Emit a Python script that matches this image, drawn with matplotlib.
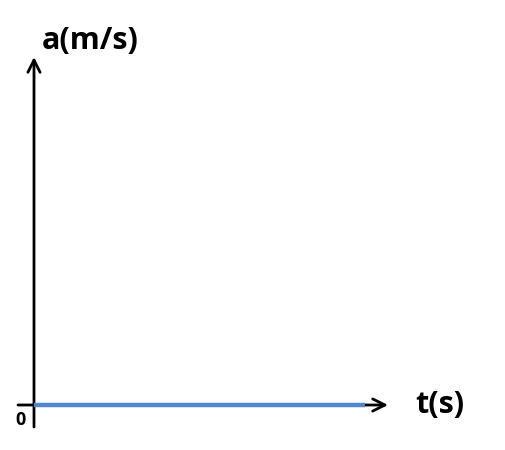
import matplotlib
matplotlib.use("Agg")
import matplotlib.pyplot as plt

# Data
t_values = [0, 10]
a_values = [0, 0]
x_label = "t(s)"
y_label = "a(m/s)"
origin_label = "0"

plt.rcParams['font.family'] = ['Open Sans', 'DejaVu Sans']

fig = plt.figure(figsize=(5.06, 4.5), dpi=100)
ax = fig.add_axes([0, 0, 1, 1])
px_x = 33.1
px_y = 34.7
ax.set_xlim(-34 / px_x, (506 - 34) / px_x)
ax.set_ylim(-45 / px_y, (450 - 45) / px_y)
ax.axis('off')

# axes arrows
ax.annotate('', xy=(388 / px_x - 34 / px_x, 0), xytext=(-16 / px_x, 0),
            arrowprops=dict(arrowstyle='->', lw=2, color='black',
                            mutation_scale=22, shrinkA=0, shrinkB=0))
ax.annotate('', xy=(0, (405 - 57) / px_y), xytext=(0, -22 / px_y),
            arrowprops=dict(arrowstyle='->', lw=2, color='black',
                            mutation_scale=22, shrinkA=0, shrinkB=0))

ax.plot(t_values, a_values, color='#4F86CC', lw=3.2, solid_capstyle='butt', zorder=5)

ax.text(440 / px_x - 34 / px_x, 0, x_label, fontsize=22, fontweight='bold',
        ha='center', va='center')
ax.text(90 / px_x - 34 / px_x, (405 - 41) / px_y, y_label, fontsize=22,
        fontweight='bold', ha='center', va='center')
ax.text(21 / px_x - 34 / px_x, -15 / px_y, origin_label, fontsize=13,
        fontweight='bold', ha='center', va='center')

fig.savefig('out.png', dpi=100)
